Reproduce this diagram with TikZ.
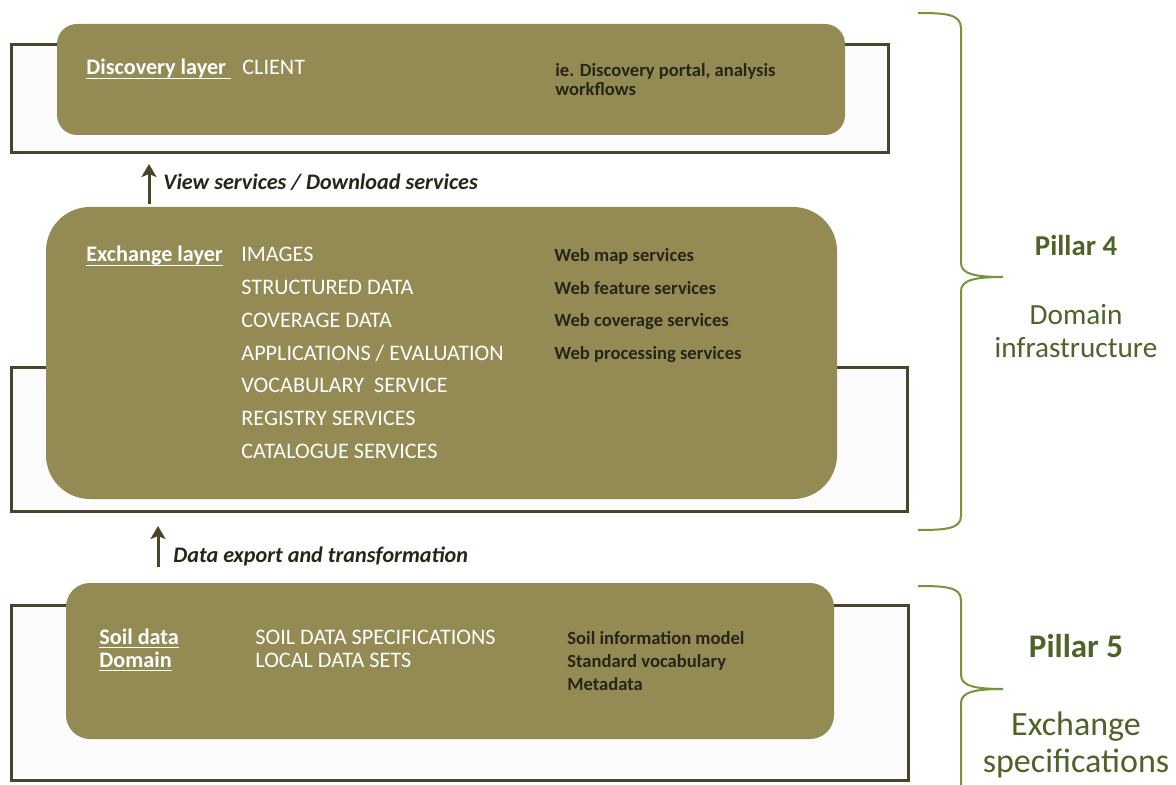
\documentclass[tikz,border=0pt]{standalone}
\usepackage{fontspec}
\setmainfont{Carlito}
\usetikzlibrary{arrows.meta}

\definecolor{layerolive}{RGB}{148,138,84}
\definecolor{framedark}{RGB}{74,69,42}
\definecolor{inkdark}{RGB}{38,38,24}
\definecolor{bracegreen}{RGB}{119,147,60}
\definecolor{pillargreen}{RGB}{79,98,40}

\newcommand{\layerline}[1]{\setbox0\hbox{#1}\rlap{\rule[-2.2pt]{\wd0}{0.65pt}}\box0}

\tikzset{
  backframe/.style={draw=framedark, line width=1.5pt, fill=white!99!black},
  layerbox/.style={fill=layerolive},
  listtext/.style={text=white, anchor=base west, inner sep=0pt, font=\fontsize{11.1}{13}\selectfont},
  headtext/.style={listtext, font=\bfseries\fontsize{11.1}{13}\selectfont},
  notetext/.style={text=inkdark, anchor=base west, inner sep=0pt, font=\bfseries\fontsize{9.3}{11}\selectfont},
  flowtext/.style={text=inkdark, anchor=base west, inner sep=0pt, font=\bfseries\itshape\fontsize{11.1}{13}\selectfont},
  flow/.style={draw=framedark, line width=1.5pt, -{Stealth[width=7.5pt,length=6.5pt,inset=1.5pt]}},
  bracebar/.style={draw=bracegreen, line width=1pt},
  pillarhead/.style={text=pillargreen, anchor=base, inner sep=0pt, font=\bfseries\fontsize{14.4}{17}\selectfont},
  pillartext/.style={text=pillargreen, anchor=base, inner sep=0pt, font=\fontsize{14.6}{17}\selectfont}
}

\begin{document}
\begin{tikzpicture}[x=0.5pt,y=-0.5pt]
\useasboundingbox (0,0) rectangle (1176,785);

% Discovery layer
\draw[backframe] (11,45) rectangle (888,153);
\fill[layerbox, rounded corners=10pt] (57,24) rectangle (845,135);
\node[headtext] (disc) at (86,75) {\layerline{Discovery layer\ }};
\node[listtext] (client) at (242,75) {CLIENT};
\node[notetext] (portal) at (555,76.5) {ie. Discovery portal, analysis};
\node[notetext] (workflows) at (555,96) {workflows};

% view / download arrow
\coordinate (view0) at (149,204);
\coordinate (view1) at (149,164);
\draw[flow] (view0) -- (view1);
\node[flowtext] (viewlbl) at (163,190) {View services / Download services};

% Exchange layer
\draw[backframe] (11,368) rectangle (907,511);
\fill[layerbox, rounded corners=22pt] (46,207) rectangle (837,499);
\node[headtext] (exch) at (86,262) {\layerline{Exchange layer}};
\foreach \txt [count=\i from 0] in {IMAGES, STRUCTURED DATA, COVERAGE DATA,
    APPLICATIONS / EVALUATION, VOCABULARY\ \ SERVICE, REGISTRY SERVICES, CATALOGUE SERVICES}
  \node[listtext] (exch\i) at (241,{262+32.7*\i}) {\txt};
\foreach \txt [count=\i from 0] in {Web map services, Web feature services,
    Web coverage services, Web processing services}
  \node[notetext] (web\i) at (554,{262+32.5*\i}) {\txt};

% data export arrow
\coordinate (export0) at (158,567);
\coordinate (export1) at (158,526);
\draw[flow] (export0) -- (export1);
\node[flowtext] (exportlbl) at (173,562) {Data export and transformation};

% Soil data domain
\draw[backframe] (11,605) rectangle (908,780);
\fill[layerbox, rounded corners=12pt] (66,583) rectangle (834,739);
\node[headtext] (soil) at (99,644) {\layerline{Soil data}};
\node[headtext] (domain) at (99,667) {\layerline{Domain}};
\node[listtext] (spec) at (255,644) {SOIL DATA SPECIFICATIONS};
\node[listtext] (local) at (255,667) {LOCAL DATA SETS};
\node[notetext] (model) at (567,644) {Soil information model};
\node[notetext] (vocab) at (567,667) {Standard vocabulary};
\node[notetext] (meta) at (567,690.5) {Metadata};

% Pillar 4 brace
\draw[bracebar] (918,13) .. controls (945,13) and (961,14) .. (961,28) -- (961,263)
  .. controls (961,274) and (975,277) .. (1003,277)
  .. controls (975,277) and (961,280) .. (961,291) -- (961,516)
  .. controls (961,529) and (945,530) .. (918,530);
\node[pillarhead] (pillar4) at (1076,256) {Pillar 4};
\node[pillartext] (infra1) at (1076,325) {Domain};
\node[pillartext] (infra2) at (1076,358) {infrastructure};

% Pillar 5 brace
\draw[bracebar] (918,586) .. controls (945,586) and (961,587) .. (961,600) -- (961,675)
  .. controls (961,686) and (975,689) .. (1003,689)
  .. controls (975,689) and (961,692) .. (961,703) -- (961,785);
\node[pillarhead, font=\bfseries\fontsize{16.5}{19}\selectfont] (pillar5) at (1076,657) {Pillar 5};
\node[pillartext, font=\fontsize{17}{20}\selectfont] (exspec1) at (1076,735) {Exchange};
\node[pillartext, font=\fontsize{17}{20}\selectfont] (exspec2) at (1076,772) {specifications};

\end{tikzpicture}
\end{document}
